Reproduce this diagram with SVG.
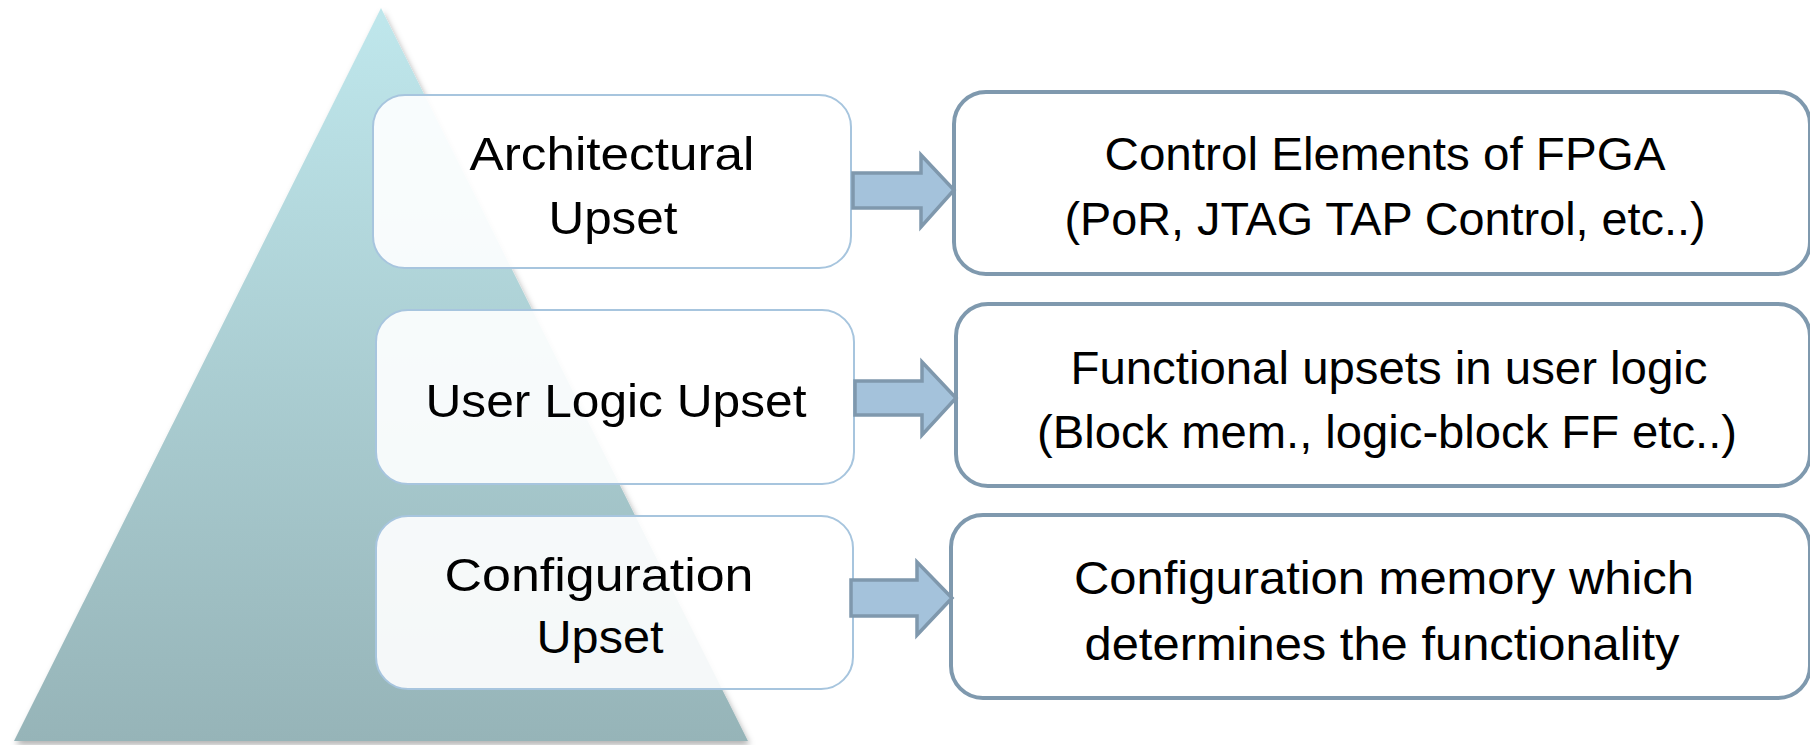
<svg xmlns="http://www.w3.org/2000/svg" width="1810" height="745" viewBox="0 0 1810 745">
  <defs>
    <linearGradient id="pyramidFill" x1="0" y1="0" x2="0" y2="1">
      <stop offset="0" stop-color="#bfe7ec"/>
      <stop offset="1" stop-color="#96b4b8"/>
    </linearGradient>
    <filter id="softShadow" x="-10%" y="-10%" width="120%" height="120%">
      <feDropShadow dx="2" dy="4" stdDeviation="3" flood-color="#000" flood-opacity="0.3"/>
    </filter>
    <style>
      .level { fill: #ffffff; fill-opacity: 0.9; stroke: #a7c5de; stroke-width: 2; }
      .detail { fill: #ffffff; stroke: #7f99ae; stroke-width: 4; }
      .arrow { fill: #a4c2db; stroke: #7f98ad; stroke-width: 3.5; stroke-linejoin: miter; }
      text { font-family: "Liberation Sans", Arial, sans-serif; font-size: 47px; fill: #000; text-anchor: middle; }
    </style>
  </defs>

  <!-- background pyramid -->
  <polygon points="381,8 14,741 748,741" fill="url(#pyramidFill)" filter="url(#softShadow)"/>

  <!-- pyramid levels -->
  <g id="arch-upset">
    <rect class="level" x="373" y="95" width="478" height="173" rx="32"/>
    <text x="612" y="170" textLength="285" lengthAdjust="spacingAndGlyphs">Architectural</text>
    <text x="613" y="234" textLength="129" lengthAdjust="spacingAndGlyphs">Upset</text>
  </g>
  <g id="user-logic-upset">
    <rect class="level" x="376" y="310" width="478" height="174" rx="32"/>
    <text x="616" y="417" textLength="381" lengthAdjust="spacingAndGlyphs">User Logic Upset</text>
  </g>
  <g id="config-upset">
    <rect class="level" x="376" y="516" width="477" height="173" rx="32"/>
    <text x="599" y="591" textLength="309" lengthAdjust="spacingAndGlyphs">Configuration</text>
    <text x="600" y="653" textLength="127" lengthAdjust="spacingAndGlyphs">Upset</text>
  </g>

  <!-- descriptions -->
  <g id="control-elements">
    <rect class="detail" x="954" y="92" width="856" height="182" rx="32"/>
    <text x="1385" y="170" textLength="561" lengthAdjust="spacingAndGlyphs">Control Elements of FPGA</text>
    <text x="1385" y="235" textLength="641" lengthAdjust="spacingAndGlyphs">(PoR, JTAG TAP Control, etc..)</text>
  </g>
  <g id="functional-upsets">
    <rect class="detail" x="956" y="304" width="854" height="182" rx="32"/>
    <text x="1389" y="384" textLength="637" lengthAdjust="spacingAndGlyphs">Functional upsets in user logic</text>
    <text x="1387" y="448" textLength="700" lengthAdjust="spacingAndGlyphs">(Block mem., logic-block FF etc..)</text>
  </g>
  <g id="config-memory">
    <rect class="detail" x="951" y="515" width="859" height="183" rx="32"/>
    <text x="1384" y="594" textLength="620" lengthAdjust="spacingAndGlyphs">Configuration memory which</text>
    <text x="1382" y="660" textLength="595" lengthAdjust="spacingAndGlyphs">determines the functionality</text>
  </g>

  <!-- connectors -->
  <g id="connectors">
    <polygon class="arrow" points="853,173 921,173 921,155 954,190 921,227 921,208 853,208"/>
    <polygon class="arrow" points="855,381 922,381 922,362 956,398 922,435 922,415 855,415"/>
    <polygon class="arrow" points="851,580 917,580 917,562 952,598 917,635 917,616 851,616"/>
  </g>
</svg>
